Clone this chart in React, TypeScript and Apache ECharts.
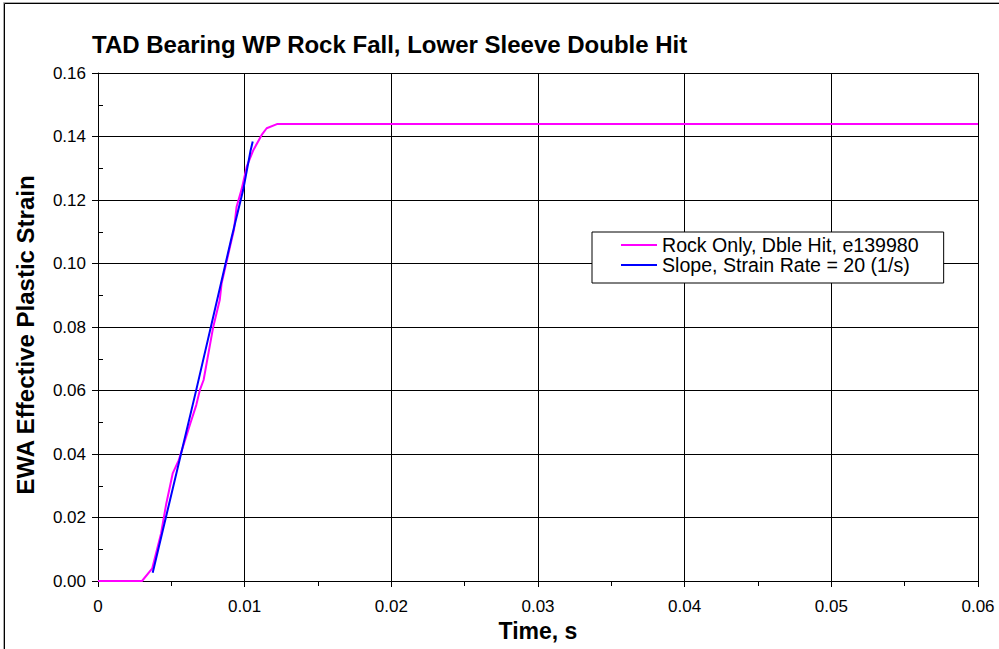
import React, { useEffect, useRef } from 'react';
import * as echarts from 'echarts';

const FONT = "'Liberation Sans', Arial, Helvetica, sans-serif";

const TITLE = 'TAD Bearing WP Rock Fall, Lower Sleeve Double Hit';
const X_NAME = 'Time, s';
const Y_NAME = 'EWA Effective Plastic Strain';

const SERIES_ROCK = 'Rock Only, Dble Hit, e139980';
const SERIES_SLOPE = 'Slope, Strain Rate = 20 (1/s)';

const timeRock = [
  0, 0.003, 0.0037, 0.0043, 0.00464, 0.0051, 0.0055, 0.0063, 0.0067, 0.00695, 0.0072,
  0.00786, 0.0083, 0.00843, 0.00877, 0.009, 0.00927, 0.00945, 0.0098, 0.01014, 0.01059,
  0.01116, 0.0115, 0.0122, 0.06,
];
const strainRock = [
  0, 0, 0.004, 0.015, 0.024, 0.034, 0.038, 0.0497, 0.0554, 0.0602, 0.0633,
  0.0801, 0.0885, 0.0938, 0.1006, 0.1053, 0.1106, 0.1179, 0.1235, 0.1305, 0.1357,
  0.1405, 0.1426, 0.1439, 0.1439,
];

const timeSlope = [0.00373, 0.0067, 0.0091, 0.0099, 0.0104, 0.01055];
const strainSlope = [0.0026, 0.0602, 0.108, 0.1232, 0.1355, 0.1384];

const X_MIN = 0;
const X_MAX = 0.06;
const X_STEP = 0.01;
const Y_MIN = 0;
const Y_MAX = 0.16;
const Y_STEP = 0.02;
const Y_MINOR_STEP = 0.01;

export default function App() {
  const ref = useRef<HTMLDivElement>(null);

  useEffect(() => {
    if (!ref.current) return;
    const chart = echarts.init(ref.current, null, { renderer: 'svg' });
    const rockData = timeRock.map((t, i) => [t, strainRock[i]]);
    const slopeData = timeSlope.map((t, i) => [t, strainSlope[i]]);

    chart.setOption({
      animation: false,
      backgroundColor: '#fff',
      title: {
        text: TITLE,
        left: 92,
        top: 32,
        padding: 0,
        textStyle: { fontFamily: FONT, fontSize: 24, fontWeight: 'bold', color: '#000' },
      },
      grid: { left: 98, right: 21, top: 73, bottom: 68 },
      legend: {
        orient: 'vertical',
        left: 592,
        top: 232,
        padding: [3, 25, 8, 29],
        itemGap: 0,
        itemWidth: 36,
        itemHeight: 2,
        icon: 'rect',
        borderColor: '#000',
        borderWidth: 1,
        backgroundColor: '#fff',
        textStyle: { fontSize: 19.6, fontFamily: FONT, color: '#000' },
        data: [SERIES_ROCK, SERIES_SLOPE],
      },
      xAxis: {
        type: 'value',
        min: X_MIN,
        max: X_MAX,
        interval: X_STEP,
        axisLine: { show: true, onZero: false, lineStyle: { color: '#000', width: 1 } },
        axisTick: { show: true, length: 6, lineStyle: { color: '#000' } },
        minorTick: { show: true, splitNumber: 2, length: 5, lineStyle: { color: '#000' } },
        splitLine: { show: true, lineStyle: { color: '#000', width: 1 } },
        axisLabel: {
          margin: 17,
          fontSize: 17,
          fontFamily: FONT,
          color: '#000',
          formatter: (v: number) => (v === 0 ? '0' : v.toFixed(2)),
        },
      },
      yAxis: [
        {
          type: 'value',
          min: Y_MIN,
          max: Y_MAX,
          interval: Y_STEP,
          axisLine: { show: true, lineStyle: { color: '#000', width: 1 } },
          axisTick: { show: true, length: 6, lineStyle: { color: '#000' } },
          splitLine: { show: true, lineStyle: { color: '#000', width: 1 } },
          axisLabel: {
            margin: 12,
            fontSize: 17,
            fontFamily: FONT,
            color: '#000',
            formatter: (v: number) => v.toFixed(2),
          },
        },
        {
          type: 'value',
          position: 'left',
          min: Y_MIN,
          max: Y_MAX,
          interval: Y_MINOR_STEP,
          axisLine: { show: false },
          axisTick: { show: true, inside: true, length: 5, lineStyle: { color: '#000' } },
          axisLabel: { show: false },
          splitLine: { show: false },
        },
      ],
      series: [
        {
          name: SERIES_ROCK,
          type: 'line',
          yAxisIndex: 0,
          data: rockData,
          symbol: 'none',
          showSymbol: false,
          color: '#ff00ff',
          lineStyle: { color: '#ff00ff', width: 2 },
        },
        {
          name: SERIES_SLOPE,
          type: 'line',
          yAxisIndex: 0,
          data: slopeData,
          symbol: 'none',
          showSymbol: false,
          color: '#0000ff',
          lineStyle: { color: '#0000ff', width: 2 },
        },
      ],
      graphic: [
        {
          type: 'rect',
          silent: true,
          shape: { x: 3.5, y: 2.5, width: 1200, height: 900 },
          style: { fill: 'none', stroke: '#aaa', lineWidth: 1 },
        },
        {
          type: 'rect',
          silent: true,
          shape: { x: 4.5, y: 3.5, width: 1200, height: 900 },
          style: { fill: 'none', stroke: '#000', lineWidth: 1 },
        },
        {
          type: 'text',
          x: 25,
          y: 335,
          rotation: Math.PI / 2,
          style: {
            text: Y_NAME,
            font: `bold 24px ${FONT}`,
            fill: '#000',
            align: 'center',
            verticalAlign: 'middle',
          },
        },
        {
          type: 'text',
          x: 538,
          y: 631,
          style: {
            text: X_NAME,
            font: `bold 23px ${FONT}`,
            fill: '#000',
            align: 'center',
            verticalAlign: 'middle',
          },
        },
      ],
    });

    return () => chart.dispose();
  }, []);

  return (
    <div
      ref={ref}
      style={{ position: 'fixed', left: 0, top: 0, width: 999, height: 649, background: '#fff' }}
    />
  );
}
